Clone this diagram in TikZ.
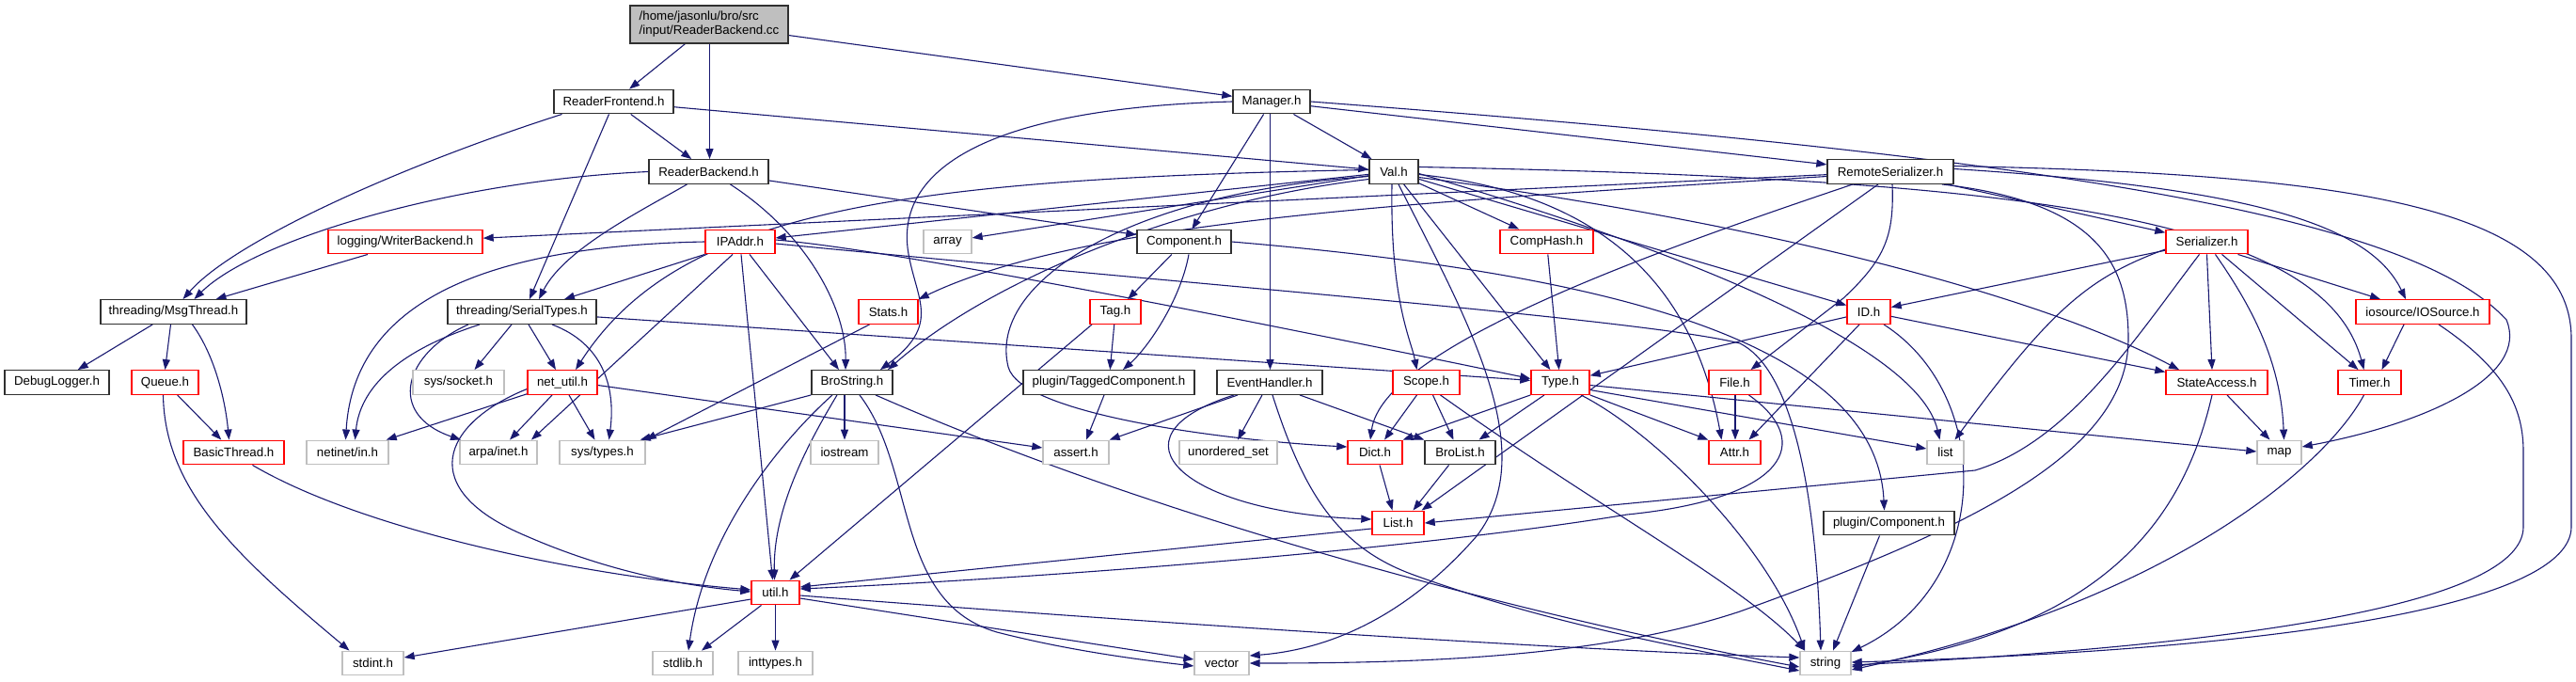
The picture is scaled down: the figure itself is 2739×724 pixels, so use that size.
\documentclass[tikz,border=0pt]{standalone}
\usepackage{fontspec}
\setmainfont{Liberation Sans}
\usetikzlibrary{arrows.meta}
\definecolor{edgec}{HTML}{191970}
\definecolor{redb}{HTML}{FF0000}
\definecolor{grayb}{HTML}{BFBFBF}
\definecolor{blkb}{HTML}{303030}
\pgfdeclarelayer{bg}
\pgfsetlayers{bg,main}
\newcommand\fsz{\fontsize{13.3}{15}\selectfont}
\newcommand\nb[6]{\node[#1, minimum width={#4-#3}] (#2) at ({(#3+#4)/2},#5) {#6};}
\begin{document}
\begin{tikzpicture}[x=1pt,y=-1pt,
  basebox/.style={rectangle, inner sep=1pt, minimum height=25.5, font=\fsz, line width=1.4pt, fill=white},
  blk/.style={basebox, draw=blkb},
  redn/.style={basebox, draw=redb},
  grayn/.style={basebox, draw=grayb},
  edg/.style={draw=edgec, line width=1.1pt, -{Triangle[length=11pt,width=8pt]}}]
\useasboundingbox (0,0) rectangle (2739,724);
\node[blk, fill=grayb, minimum width=168, minimum height=40, align=left] (root) at (754,26) {/home/jasonlu/bro/src\\/input/ReaderBackend.cc};
\nb{blk}{rfe}{589}{716}{108}{ReaderFrontend.h}
\nb{blk}{mgr}{1311}{1393}{108}{Manager.h}
\nb{blk}{rbe}{690}{817}{182.5}{ReaderBackend.h}
\nb{blk}{val}{1456}{1508}{182.5}{Val.h}
\nb{blk}{rs}{1943}{2077}{182.5}{RemoteSerializer.h}
\nb{redn}{wb}{349}{513}{257}{logging/WriterBackend.h}
\nb{redn}{ipa}{750}{824}{257}{IPAddr.h}
\nb{grayn}{arr}{982}{1033}{257}{array}
\nb{blk}{cmp}{1209}{1309}{257}{Component.h}
\nb{redn}{ch}{1595}{1694}{257}{CompHash.h}
\nb{redn}{ser}{2303}{2390}{257}{Serializer.h}
\nb{blk}{mt}{107}{262}{331.5}{threading/MsgThread.h}
\nb{blk}{st}{476}{634}{331.5}{threading/SerialTypes.h}
\nb{redn}{sts}{913}{976}{331.5}{Stats.h}
\nb{redn}{tag}{1159}{1213}{331.5}{Tag.h}
\nb{redn}{id}{1964}{2010}{331.5}{ID.h}
\nb{redn}{ios}{2505}{2647}{331.5}{iosource/IOSource.h}
\nb{blk}{dbg}{5}{116}{406.5}{DebugLogger.h}
\nb{redn}{que}{140}{211}{406.5}{Queue.h}
\nb{grayn}{sock}{439}{536}{406.5}{sys/socket.h}
\nb{redn}{nu}{561}{635}{406.5}{net\_util.h}
\nb{blk}{bs}{863}{949}{406.5}{BroString.h}
\nb{blk}{tc}{1088}{1270}{406.5}{plugin/TaggedComponent.h}
\nb{blk}{eh}{1294}{1406}{406.5}{EventHandler.h}
\nb{redn}{scp}{1481}{1552}{406.5}{Scope.h}
\nb{redn}{typ}{1628}{1690}{406.5}{Type.h}
\nb{redn}{file}{1817}{1872}{406.5}{File.h}
\nb{redn}{sa}{2303}{2411}{406.5}{StateAccess.h}
\nb{redn}{tmr}{2486}{2553}{406.5}{Timer.h}
\nb{redn}{bt}{195}{302}{481}{BasicThread.h}
\nb{grayn}{nin}{326}{413}{481}{netinet/in.h}
\nb{grayn}{ain}{489}{571}{481}{arpa/inet.h}
\nb{grayn}{sty}{595}{686}{481}{sys/types.h}
\nb{grayn}{iost}{862}{934}{481}{iostream}
\nb{grayn}{asrt}{1109}{1179}{481}{assert.h}
\nb{grayn}{us}{1254}{1358}{481}{unordered\_set}
\nb{redn}{dict}{1433}{1491}{481}{Dict.h}
\nb{blk}{bl}{1515}{1590}{481}{BroList.h}
\nb{redn}{attr}{1817}{1872}{481}{Attr.h}
\nb{grayn}{lst}{2049}{2088}{481}{list}
\nb{grayn}{map}{2400}{2447}{481}{map}
\nb{redn}{lh}{1459}{1514}{556}{List.h}
\nb{blk}{pc}{1939}{2078}{556}{plugin/Component.h}
\nb{redn}{util}{799}{850}{630}{util.h}
\nb{grayn}{stdint}{364}{429}{705}{stdint.h}
\nb{grayn}{stdlib}{694}{758}{705}{stdlib.h}
\nb{grayn}{intt}{785}{864}{705}{inttypes.h}
\nb{grayn}{vec}{1270}{1328}{705}{vector}
\nb{grayn}{str}{1914}{1968}{705}{string}
\begin{pgfonlayer}{bg}
% root
\draw[edg] (root) -- (rfe);
\draw[edg] ([xshift=0.5]root.south) -- ([xshift=0.5]root.south |- rbe.north);
\draw[edg] (root) -- (mgr);
% ReaderFrontend
\draw[edg] (rfe) -- (rbe);
\draw[edg] (rfe) -- (val);
\draw[edg] ([xshift=-55]rfe.south) .. controls (430,175) and (250,255) .. ([xshift=10]mt.north);
\draw[edg] ([xshift=-5]rfe.south) -- ([xshift=8]st.north);
% ReaderBackend
\draw[edg] (rbe.west) .. controls (480,192) and (270,255) .. ([xshift=22]mt.north);
\draw[edg] ([xshift=-23]rbe.south) .. controls (680,225) and (600,265) .. ([xshift=18]st.north);
\draw[edg] ([xshift=23]rbe.south) .. controls (860,250) and (900,330) .. ([xshift=-7]bs.north);
\draw[edg] (rbe) -- (cmp);
% Manager
\draw[edg] (mgr) -- (val);
\draw[edg] (mgr) -- (cmp);
\draw[edg] ([xshift=-1.5]mgr.south) -- ([xshift=-1.5]mgr.south |- eh.north);
\draw[edg] (mgr) -- (rs);
\draw[edg] (mgr.west) .. controls (1050,115) and (950,180) .. (966,270) .. controls (975,320) and (1000,345) .. ([xshift=30]bs.north);
\draw[edg] (mgr.east) .. controls (2150,165) and (2560,225) .. (2665,340) .. controls (2690,400) and (2580,450) .. ([yshift=6]map.east);
% Val
\draw[edg] (val) -- (arr);
\draw[edg] (val) -- (ipa);
\draw[edg] ([yshift=-8]val.west) .. controls (1250,215) and (1050,300) .. ([xshift=38]bs.north);
\draw[edg] ([yshift=2]val.west) .. controls (950,190) and (720,225) .. ([xshift=14]nu.north);
\draw[edg] (val) -- (ch);
\draw[edg] ([xshift=-2]val.south) .. controls (1478,320) and (1500,360) .. ([xshift=-10]scp.north);
\draw[edg] (val) -- (typ);
\draw[edg] ([xshift=5]val.south) .. controls (1560,340) and (1640,480) .. (1570,570) .. controls (1500,650) and (1420,690) .. ([yshift=8]vec.east);
\draw[edg] ([yshift=-5]val.west) .. controls (1200,205) and (1050,300) .. (1072,390) .. controls (1085,440) and (1300,468) .. ([yshift=6]dict.west);
\draw[edg] ([yshift=-3]val.east) .. controls (1700,205) and (1800,300) .. ([xshift=-14]attr.north);
\draw[edg] (val) -- (id);
\draw[edg] ([yshift=-2]val.east) .. controls (1800,270) and (2040,370) .. ([xshift=-6]lst.north);
\draw[edg] ([yshift=-6]val.east) .. controls (1900,240) and (2180,320) .. ([xshift=-40]sa.north);
\draw[edg] ([yshift=5]val.east) .. controls (2150,190) and (2470,230) .. ([xshift=-6]tmr.north);
% RemoteSerializer
\draw[edg] (rs) -- (wb);
\draw[edg] ([yshift=-5]rs.west) .. controls (1500,215) and (1150,235) .. (sts.north east);
\draw[edg] ([xshift=-40]rs.south) .. controls (1750,270) and (1470,370) .. ([xshift=-5]dict.north);
\draw[edg] ([xshift=-13]rs.south) -- ([xshift=25]lh.north);
\draw[edg] ([xshift=2]rs.south) .. controls (2014,250) and (2005,275) .. (1960,317) -- ([xshift=17]file.north);
\draw[edg] (rs) -- (ser);
\draw[edg] ([yshift=3]rs.east) .. controls (2400,200) and (2520,240) .. ([xshift=-18]ios.north);
\draw[edg] ([yshift=6]rs.east) .. controls (2500,185) and (2734,220) .. (2734,360) -- (2734,560) .. controls (2734,640) and (2450,690) .. ([yshift=1]str.east);
\draw[edg] ([xshift=55]rs.south) .. controls (2230,215) and (2263,280) .. (2263,360) .. controls (2263,480) and (2100,560) .. (1850,650) .. controls (1700,700) and (1500,705) .. (vec.east);
% Serializer
\draw[edg] (ser) -- (id);
\draw[edg] ([xshift=-8]ser.south) .. controls (2270,360) and (2200,470) .. (2100,500) -- (lh.east);
\draw[edg] ([yshift=-8]ser.west) .. controls (2220,295) and (2180,330) .. ([xshift=10]lst.north);
\draw[edg] (ser.south) -- ([xshift=-5]sa.north);
\draw[edg] ([xshift=9]ser.south) .. controls (2390,320) and (2425,380) .. ([xshift=5]map.north);
\draw[edg] ([xshift=16]ser.south) -- ([xshift=-12]tmr.north);
\draw[edg] ([xshift=33]ser.south) -- ([xshift=-45]ios.north);
% IOSource
\draw[edg] ([xshift=-20]ios.south) -- ([xshift=13]tmr.north);
\draw[edg] ([xshift=17]ios.south) .. controls (2660,390) and (2683,430) .. (2683,480) -- (2683,560) .. controls (2683,640) and (2400,685) .. ([yshift=-2]str.east);
% ID
\draw[edg] (id) -- (typ);
\draw[edg] ([xshift=-10]id.south) -- ([xshift=15]attr.north);
\draw[edg] (id) -- (sa);
\draw[edg] ([xshift=16]id.south) .. controls (2120,420) and (2120,620) .. ([yshift=12]str.east);
% CompHash
\draw[edg] (ch) -- (typ);
% Component
\draw[edg] (cmp) -- (tag);
\draw[edg] ([xshift=5]cmp.south) .. controls (1255,320) and (1220,370) .. ([xshift=15]tc.north);
\draw[edg] (cmp.east) .. controls (1700,290) and (1995,360) .. ([xshift=-5]pc.north);
% Tag
\draw[edg] (tag) -- (tc);
\draw[edg] ([xshift=-25]tag.south) -- ([xshift=15]util.north);
% Stats
\draw[edg] ([xshift=-20]sts.south) -- (sty.north east);
% WriterBackend
\draw[edg] ([xshift=-40]wb.south) -- ([xshift=45]mt.north);
% MsgThread
\draw[edg] (mt) -- (dbg);
\draw[edg] ([xshift=-3]mt.south) -- (que.north);
\draw[edg] ([xshift=20]mt.south) .. controls (230,380) and (240,430) .. ([xshift=-5]bt.north);
% Queue
\draw[edg] (que) -- (bt);
\draw[edg] ([xshift=-2]que.south) .. controls (175,520) and (250,590) .. ([xshift=-25]stdint.north);
% BasicThread
\draw[edg] ([xshift=20]bt.south) .. controls (380,560) and (600,610) .. ([yshift=3]util.west);
% SerialTypes
\draw[edg] ([xshift=-45]st.south) .. controls (470,358) and (385,390) .. ([xshift=8]nin.north);
\draw[edg] ([xshift=-57]st.south) .. controls (430,375) and (410,440) .. ([xshift=-40]ain.north);
\draw[edg] ([xshift=-11]st.south) -- ([xshift=17]sock.north);
\draw[edg] ([xshift=7]st.south) -- ([xshift=-7]nu.north);
\draw[edg] ([xshift=32]st.south) .. controls (640,365) and (655,410) .. ([xshift=7]sty.north);
\draw[edg] (st) -- (typ);
% IPAddr
\draw[edg] (ipa.west) .. controls (480,262) and (375,340) .. ([xshift=-2]nin.north);
\draw[edg] (ipa.south west) -- ([xshift=45]st.north);
\draw[edg] ([xshift=-8]ipa.south) -- ([xshift=35]ain.north);
\draw[edg] ([xshift=1]ipa.south) -- ([xshift=-3]util.north);
\draw[edg] ([xshift=10]ipa.south) -- ([xshift=-14]bs.north);
\draw[edg] ([yshift=2]ipa.east) .. controls (950,265) and (1350,345) .. ([yshift=4]typ.west);
\draw[edg] ([yshift=-2]ipa.east) .. controls (1300,305) and (1750,340) .. (1850,365) .. controls (1900,390) and (1930,500) .. ([xshift=-5]str.north);
% net_util
\draw[edg] (nu) -- (nin);
\draw[edg] ([xshift=-11]nu.south) -- ([xshift=12]ain.north);
\draw[edg] ([xshift=7]nu.south) -- ([xshift=-8]sty.north);
\draw[edg] ([yshift=-7]nu.west) .. controls (470,450) and (440,520) .. (560,570) .. controls (640,605) and (720,622) .. ([yshift=1]util.west);
\draw[edg] ([yshift=-3]nu.east) -- ([yshift=5]asrt.west);
% BroString
\draw[edg] (bs.south west) -- ([xshift=-6]sty.north east);
\draw[edg] ([xshift=-8]bs.south) -- (iost.north);
\draw[edg] ([xshift=-21]bs.south) .. controls (840,460) and (750,560) .. ([xshift=6]stdlib.north);
\draw[edg] ([xshift=-16]bs.south) .. controls (860,470) and (822,540) .. ([xshift=-1]util.north);
\draw[edg] ([xshift=8]bs.south) .. controls (975,500) and (950,640) .. (1060,672) .. controls (1130,690) and (1200,700) .. ([yshift=-3]vec.west);
\draw[edg] ([xshift=25]bs.south) .. controls (1250,560) and (1650,660) .. ([yshift=-4]str.west);
% EventHandler
\draw[edg] ([xshift=-8]eh.south) -- ([xshift=10]us.north);
\draw[edg] ([xshift=-34]eh.south) -- (asrt.north east);
\draw[edg] ([xshift=32]eh.south) -- (bl.north west);
\draw[edg] ([xshift=-38]eh.south) .. controls (1170,465) and (1260,545) .. ([yshift=4]lh.west);
\draw[edg] ([xshift=3]eh.south) .. controls (1385,520) and (1420,580) .. (1500,610) .. controls (1650,665) and (1800,690) .. ([yshift=-8]str.west);
% Scope
\draw[edg] ([xshift=-10]scp.south) -- ([xshift=10]dict.north);
\draw[edg] ([xshift=7]scp.south) -- ([xshift=-7]bl.north);
\draw[edg] ([xshift=15]scp.south) .. controls (1700,540) and (1850,620) .. ([xshift=-22]str.north);
% Type
\draw[edg] (typ.south west) -- (dict.north east);
\draw[edg] ([xshift=-17]typ.south) -- ([xshift=20]bl.north);
\draw[edg] (typ.south east) -- (attr.north west);
\draw[edg] ([xshift=22]typ.south) .. controls (1760,460) and (1880,580) .. ([xshift=-22]str.north);
\draw[edg] ([yshift=-8]typ.east) -- ([yshift=4]lst.west);
\draw[edg] ([yshift=-3]typ.east) -- ([yshift=1]map.west);
% File
\draw[edg] ([xshift=0.5]file.south) -- ([xshift=0.5]attr.north);
\draw[edg] ([xshift=15]file.south) .. controls (1930,470) and (1900,530) .. (1730,547) .. controls (1500,585) and (1100,615) .. ([yshift=4]util.east);
% Dict, BroList, List
\draw[edg] ([xshift=5]dict.south) -- ([xshift=-6]lh.north);
\draw[edg] ([xshift=-12]bl.south) -- ([xshift=16]lh.north);
\draw[edg] ([yshift=-6]lh.west) -- ([yshift=6]util.east);
% plugin/Component, TaggedComponent
\draw[edg] ([xshift=-10]pc.south) -- ([xshift=8]str.north);
\draw[edg] ([xshift=-5]tc.south) -- ([xshift=11]asrt.north);
% StateAccess, Timer
\draw[edg] ([xshift=11]sa.south) -- ([xshift=-10]map.north);
\draw[edg] ([xshift=-5]sa.south) .. controls (2320,560) and (2230,670) .. ([yshift=-4]str.east);
\draw[edg] ([xshift=-6]tmr.south) .. controls (2470,500) and (2300,640) .. ([yshift=-7]str.east);
% util
\draw[edg] ([yshift=-7]util.west) -- ([yshift=6]stdint.east);
\draw[edg] ([xshift=-15]util.south) -- ([xshift=20]stdlib.north);
\draw[edg] ([xshift=0]util.south) -- ([xshift=0]intt.north);
\draw[edg] ([yshift=-6]util.east) -- ([yshift=4]vec.west);
\draw[edg] ([yshift=-3]util.east) .. controls (1300,668) and (1700,692) .. ([yshift=6]str.west);
\end{pgfonlayer}
\end{tikzpicture}
\end{document}
